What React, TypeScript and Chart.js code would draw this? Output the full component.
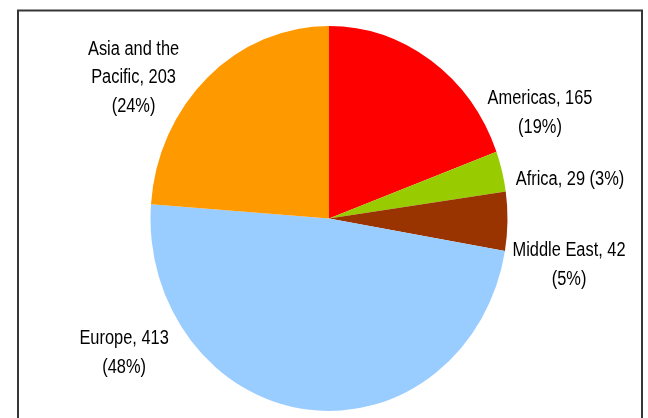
import React, { useEffect, useRef } from "react";
import { Chart, registerables } from "chart.js";

Chart.register(...registerables);

// ---- data ----
const categories = ["Americas", "Africa", "Middle East", "Europe", "Asia and the Pacific"];
const values = [165, 29, 42, 413, 203];

// ---- styles / layout ----
const sliceColors = ["#FF0000", "#99CC00", "#993300", "#99CCFF", "#FF9900"];
const PIE_RX = 178.5;
const PIE_RY = 192.5;
// label block centres relative to pie centre, in units of the pie radius
const LABEL_OFFSETS: [number, number][] = [
  [1.182, -0.601],
  [1.35, -0.229],
  [1.345, 0.251],
  [-1.148, 0.744],
  [-1.095, -0.799],
];
const LABEL_WRAP = [110, 125, 125, 95, 95];
const FONT_SIZE = 20;
const LINE_HEIGHT = 28.5;
const NARROW = 0.82;
const CAP_H = 0.716 * FONT_SIZE;

function wrapWords(ctx: CanvasRenderingContext2D, text: string, maxW: number): string[] {
  const words = text.split(" ");
  const lines: string[] = [];
  let cur = "";
  for (const w of words) {
    const test = cur ? cur + " " + w : w;
    if (cur && ctx.measureText(test).width * NARROW > maxW) {
      lines.push(cur);
      cur = w;
    } else cur = test;
  }
  if (cur) lines.push(cur);
  return lines;
}

const framePlugin = {
  id: "frame",
  beforeDraw(chart: any) {
    const { ctx, width, height } = chart;
    ctx.save();
    ctx.fillStyle = "#ffffff";
    ctx.fillRect(0, 0, width, height);
    ctx.strokeStyle = "#363636";
    ctx.lineWidth = 2;
    ctx.strokeRect(18, 10.5, 624, 500);
    ctx.restore();
  },
};

const ellipsePlugin = {
  id: "ellipse",
  beforeDatasetsDraw(chart: any) {
    const arc = chart.getDatasetMeta(0).data[0];
    const { ctx } = chart;
    ctx.save();
    ctx.translate(arc.x, arc.y);
    ctx.scale(1, PIE_RY / PIE_RX);
    ctx.translate(-arc.x, -arc.y);
  },
  afterDatasetsDraw(chart: any) {
    chart.ctx.restore();
  },
};

const labelPlugin = {
  id: "sliceLabels",
  afterDraw(chart: any) {
    const { ctx } = chart;
    const meta = chart.getDatasetMeta(0);
    const total = values.reduce((a, b) => a + b, 0);
    ctx.save();
    ctx.font = `${FONT_SIZE}px "Liberation Sans", Arial, sans-serif`;
    ctx.fillStyle = "#000000";
    ctx.textAlign = "center";
    ctx.textBaseline = "alphabetic";
    meta.data.forEach((arc: any, i: number) => {
      const r = arc.outerRadius;
      const cx = arc.x + LABEL_OFFSETS[i][0] * r;
      const cy = arc.y + LABEL_OFFSETS[i][1] * r;
      const pct = Math.round((values[i] / total) * 100);
      const text = `${categories[i]}, ${values[i]} (${pct}%)`;
      const lines = wrapWords(ctx, text, LABEL_WRAP[i]);
      const blockH = (lines.length - 1) * LINE_HEIGHT + CAP_H;
      const firstBase = cy - blockH / 2 + CAP_H;
      lines.forEach((ln, k) => {
        ctx.save();
        ctx.translate(cx, firstBase + k * LINE_HEIGHT);
        ctx.scale(NARROW, 1);
        ctx.fillText(ln, 0, 0);
        ctx.restore();
      });
    });
    ctx.restore();
  },
};

export default function App() {
  const ref = useRef<HTMLCanvasElement | null>(null);
  useEffect(() => {
    document.body.style.margin = "0";
    if (!ref.current) return;
    const chart = new Chart(ref.current, {
      type: "pie",
      data: {
        labels: categories,
        datasets: [
          {
            data: values,
            backgroundColor: sliceColors,
            borderWidth: 0,
            clip: false as any,
          },
        ],
      },
      options: {
        animation: false,
        responsive: false,
        devicePixelRatio: 1,
        radius: PIE_RX,
        rotation: 0,
        layout: { padding: { left: 10, right: 0, top: 19, bottom: 0 } },
        plugins: {
          legend: { display: false },
          tooltip: { enabled: false },
          title: { display: false },
        },
        events: [],
      } as any,
      plugins: [framePlugin, ellipsePlugin, labelPlugin],
    });
    return () => chart.destroy();
  }, []);
  return (
    <div style={{ position: "fixed", left: 0, top: 0, width: 648, height: 418 }}>
      <canvas ref={ref} width={648} height={418} style={{ width: 648, height: 418, display: "block" }} />
    </div>
  );
}
